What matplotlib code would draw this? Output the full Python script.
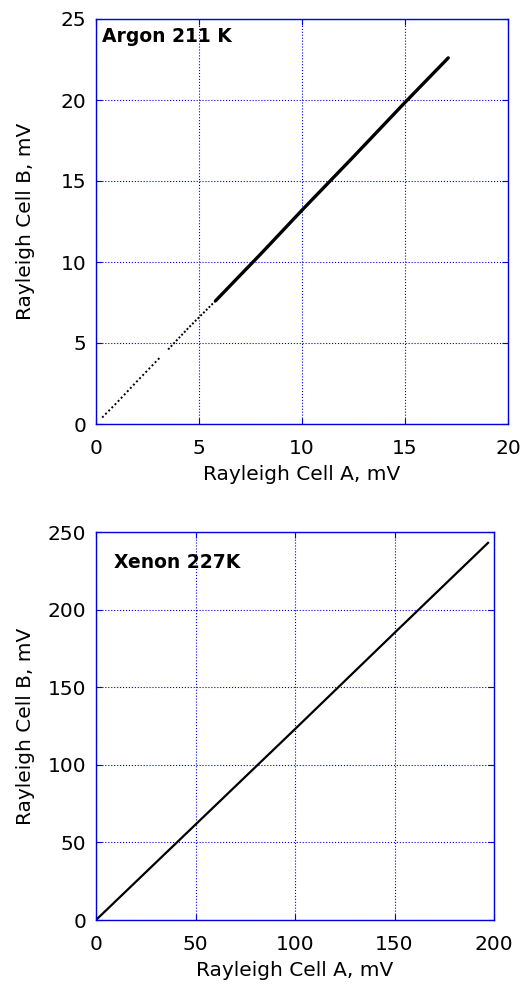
import matplotlib
matplotlib.use('Agg')
import matplotlib.pyplot as plt

plt.rcParams['font.family'] = ['DejaVu Sans']

# Argon 211 K: sparse low-signal points, then dense band
argon_low1_x = [0.3, 1.0, 2.0, 3.1]
argon_low1_y = [0.4, 1.3, 2.65, 4.1]
argon_low2_x = [3.5, 4.5, 5.8]
argon_low2_y = [4.6, 5.95, 7.6]
argon_band_x = [5.8, 8.0, 10.0, 12.5, 15.0, 17.1]
argon_band_y = [7.6, 10.5, 13.2, 16.5, 19.85, 22.6]

# Xenon 227K
xenon_x = [0.0, 50.0, 100.0, 150.0, 197.0]
xenon_y = [0.0, 61.5, 123.0, 185.0, 243.0]

fig = plt.figure(figsize=(5.3, 9.85), dpi=100)
ax1 = fig.add_axes([96 / 530, 1 - 424 / 985, 412 / 530, 405 / 985])
ax2 = fig.add_axes([96 / 530, 1 - 920 / 985, 398 / 530, 388 / 985])

blue = '#0000dd'
fs = 14.5


def style(ax, xlim, ylim, xticks, yticks):
    ax.set_xlim(xlim)
    ax.set_ylim(ylim)
    ax.set_xticks(xticks)
    ax.set_yticks(yticks)
    ax.grid(True, color=blue, linestyle=':', linewidth=0.8)
    ax.tick_params(direction='in', length=4, color=blue, labelsize=fs,
                   top=True, right=True)
    ax.tick_params(axis='x', pad=11)
    ax.tick_params(axis='y', pad=7)
    for s in ax.spines.values():
        s.set_color(blue)
        s.set_linewidth(1.0)
    ax.set_xlabel('Rayleigh Cell A, mV', fontsize=fs, labelpad=5)
    ax.set_ylabel('Rayleigh Cell B, mV', fontsize=fs)
    w = ax.get_position().width * 530
    ax.yaxis.set_label_coords(-(96 - 35) / w, 0.5)


ax1.plot(argon_low1_x, argon_low1_y, color='black', linestyle=(0, (1, 1.3)), linewidth=1.4)
ax1.plot(argon_low2_x, argon_low2_y, color='black', linestyle=(0, (1, 1.0)), linewidth=1.4)
ax1.plot(argon_band_x, argon_band_y, color='black', linewidth=2.4, solid_capstyle='round')
style(ax1, (0, 20), (0, 25), [0, 5, 10, 15, 20], [0, 5, 10, 15, 20, 25])
ax1.text(0.015, 0.98, 'Argon 211 K', transform=ax1.transAxes, fontsize=13.5,
         fontweight='bold', va='top', ha='left')

ax2.plot(xenon_x, xenon_y, color='black', linewidth=1.6)
style(ax2, (0, 200), (0, 250), [0, 50, 100, 150, 200], [0, 50, 100, 150, 200, 250])
ax2.text(0.045, 0.945, 'Xenon 227K', transform=ax2.transAxes, fontsize=13.5,
         fontweight='bold', va='top', ha='left')

fig.savefig('out.png', dpi=100)
